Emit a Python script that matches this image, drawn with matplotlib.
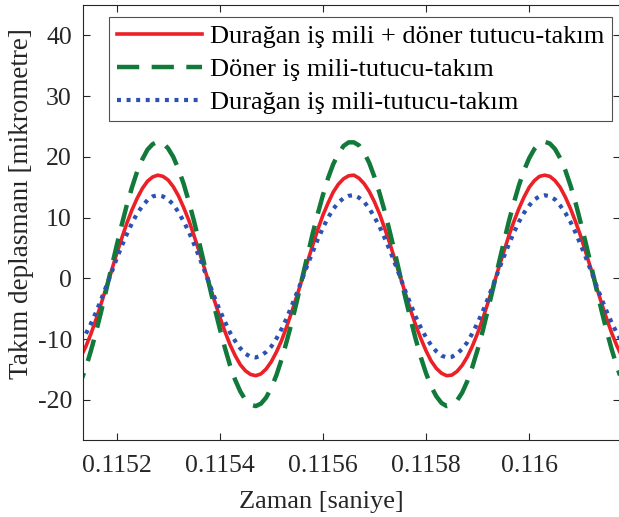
import matplotlib
matplotlib.use("Agg")
import matplotlib.pyplot as plt

plt.rcParams["font.family"] = ["Liberation Serif", "DejaVu Serif"]
plt.rcParams["axes.unicode_minus"] = False

# time samples [s]
zaman = [
    0.11512, 0.11513, 0.11514, 0.11515, 0.11516, 0.11517, 0.11518, 0.11519, 0.11520, 0.11521,
    0.11522, 0.11523, 0.11524, 0.11525, 0.11526, 0.11527, 0.11528, 0.11529, 0.11530, 0.11531,
    0.11532, 0.11533, 0.11534, 0.11535, 0.11536, 0.11537, 0.11538, 0.11539, 0.11540, 0.11541,
    0.11542, 0.11543, 0.11544, 0.11545, 0.11546, 0.11547, 0.11548, 0.11549, 0.11550, 0.11551,
    0.11552, 0.11553, 0.11554, 0.11555, 0.11556, 0.11557, 0.11558, 0.11559, 0.11560, 0.11561,
    0.11562, 0.11563, 0.11564, 0.11565, 0.11566, 0.11567, 0.11568, 0.11569, 0.11570, 0.11571,
    0.11572, 0.11573, 0.11574, 0.11575, 0.11576, 0.11577, 0.11578, 0.11579, 0.11580, 0.11581,
    0.11582, 0.11583, 0.11584, 0.11585, 0.11586, 0.11587, 0.11588, 0.11589, 0.11590, 0.11591,
    0.11592, 0.11593, 0.11594, 0.11595, 0.11596, 0.11597, 0.11598, 0.11599, 0.11600, 0.11601,
    0.11602, 0.11603, 0.11604, 0.11605, 0.11606, 0.11607, 0.11608, 0.11609, 0.11610, 0.11611,
    0.11612, 0.11613, 0.11614, 0.11615, 0.11616, 0.11617, 0.11618,
]

# tool displacement [micrometre]
duragan_doner = [
    -14.4, -13.0, -11.3, -9.2, -6.8, -4.2, -1.5, 1.2, 4.0, 6.6,
    9.1, 11.3, 13.2, 14.8, 16.0, 16.7, 17.0, 16.8, 16.2, 15.1,
    13.6, 11.7, 9.6, 7.1, 4.5, 1.8, -1.0, -3.7, -6.3, -8.7,
    -10.9, -12.7, -14.2, -15.2, -15.8, -16.0, -15.7, -14.9, -13.7, -12.1,
    -10.2, -7.9, -5.4, -2.8, 0.0, 2.7, 5.4, 8.0, 10.4, 12.4,
    14.2, 15.5, 16.4, 16.9, 17.0, 16.5, 15.6, 14.3, 12.6, 10.6,
    8.2, 5.7, 3.0, 0.3, -2.5, -5.2, -7.7, -9.9, -11.9, -13.6,
    -14.8, -15.6, -16.0, -15.9, -15.3, -14.3, -12.9, -11.1, -9.0, -6.6,
    -4.0, -1.3, 1.5, 4.2, 6.9, 9.3, 11.5, 13.4, 15.0, 16.1,
    16.8, 17.0, 16.8, 16.1, 15.0, 13.4, 11.5, 9.3, 6.9, 4.2,
    1.5, -1.3, -4.0, -6.6, -9.0, -11.1, -12.9,
]
doner = [
    -18.9, -17.1, -14.8, -12.0, -8.9, -5.5, -1.9, 1.7, 5.3, 8.8,
    12.1, 15.0, 17.6, 19.6, 21.2, 22.1, 22.5, 22.3, 21.4, 20.0,
    18.0, 15.6, 12.7, 9.5, 6.0, 2.4, -1.2, -4.8, -8.2, -11.4,
    -14.3, -16.7, -18.6, -20.0, -20.8, -21.0, -20.6, -19.6, -18.0, -15.9,
    -13.3, -10.3, -7.1, -3.6, 0.1, 3.7, 7.3, 10.6, 13.7, 16.5,
    18.8, 20.5, 21.8, 22.4, 22.4, 21.9, 20.7, 19.0, 16.7, 14.0,
    11.0, 7.6, 4.1, 0.4, -3.2, -6.7, -10.0, -13.0, -15.6, -17.8,
    -19.4, -20.5, -21.0, -20.8, -20.1, -18.8, -16.9, -14.5, -11.7, -8.6,
    -5.1, -1.6, 2.1, 5.7, 9.2, 12.4, 15.3, 17.8, 19.8, 21.3,
    22.2, 22.5, 22.2, 21.3, 19.8, 17.8, 15.3, 12.4, 9.1, 5.7,
    2.1, -1.6, -5.2, -8.6, -11.7, -14.5, -16.9,
]
duragan = [
    -11.7, -10.6, -9.2, -7.5, -5.6, -3.5, -1.3, 0.9, 3.2, 5.3,
    7.3, 9.1, 10.7, 11.9, 12.9, 13.5, 13.7, 13.5, 13.0, 12.2,
    10.9, 9.4, 7.7, 5.7, 3.6, 1.4, -0.9, -3.1, -5.2, -7.1,
    -8.9, -10.3, -11.5, -12.4, -12.9, -13.0, -12.7, -12.1, -11.2, -9.9,
    -8.3, -6.5, -4.4, -2.3, -0.1, 2.2, 4.3, 6.4, 8.3, 10.0,
    11.4, 12.5, 13.2, 13.6, 13.7, 13.3, 12.6, 11.5, 10.1, 8.5,
    6.6, 4.6, 2.4, 0.2, -2.1, -4.2, -6.3, -8.1, -9.7, -11.0,
    -12.0, -12.7, -13.0, -12.9, -12.4, -11.6, -10.5, -9.0, -7.3, -5.4,
    -3.3, -1.1, 1.2, 3.4, 5.5, 7.5, 9.3, 10.8, 12.0, 13.0,
    13.5, 13.7, 13.5, 13.0, 12.0, 10.8, 9.3, 7.5, 5.5, 3.4,
    1.2, -1.1, -3.3, -5.4, -7.3, -9.0, -10.5,
]

etiketler = [
    "Durağan iş mili + döner tutucu-takım",
    "Döner iş mili-tutucu-takım",
    "Durağan iş mili-tutucu-takım",
]

koyu = "#262626"

fig = plt.figure(figsize=(6.19, 5.17), dpi=100)
ax = fig.add_axes([83 / 619, 77.5 / 517, 537 / 619, 434.5 / 517])

ax.plot(zaman, duragan_doner, color="#EC2027", lw=2.6, label=etiketler[0])
ax.plot(zaman, doner, color="#11793A", lw=3.2, ls=(0, (5, 2.8)), label=etiketler[1])
ax.plot(zaman, duragan, color="#2B52B3", lw=3.0, ls=(0, (0.95, 1.35)), label=etiketler[2])

ax.set_xlim(0.115135, 0.116176)
ax.set_ylim(-26.5, 45)
ax.set_xticks([0.1152, 0.1154, 0.1156, 0.1158, 0.116])
ax.set_xticklabels(["0.1152", "0.1154", "0.1156", "0.1158", "0.116"])
ax.set_yticks([-20, -10, 0, 10, 20, 30, 40])
ax.tick_params(direction="in", top=True, right=True, labelsize=18.5, length=5,
               width=0.8, colors=koyu)
ax.tick_params(axis="x", pad=11)
ax.tick_params(axis="y", pad=8)
for s in ax.spines.values():
    s.set_color(koyu)
    s.set_linewidth(0.8)

fig.text(321 / 619, 1 - 508 / 517, "Zaman [saniye]", fontsize=19, color=koyu,
         ha="center", va="baseline")
fig.text(22 / 619, 1 - 204 / 517, "Takım deplasmanı [mikrometre]", fontsize=19.5,
         color=koyu, ha="center", va="center", rotation=90)

leg = ax.legend(loc="upper right", fontsize=19, frameon=True, fancybox=False,
                edgecolor=koyu, handlelength=3.25, borderpad=0.28,
                labelspacing=0.36, handletextpad=0.3, borderaxespad=0,
                bbox_to_anchor=(612 / 619, 1 - 17 / 517), bbox_transform=fig.transFigure)
leg.get_frame().set_linewidth(0.8)
for t in leg.get_texts():
    t.set_color("black")

fig.savefig("out.png", dpi=100)
